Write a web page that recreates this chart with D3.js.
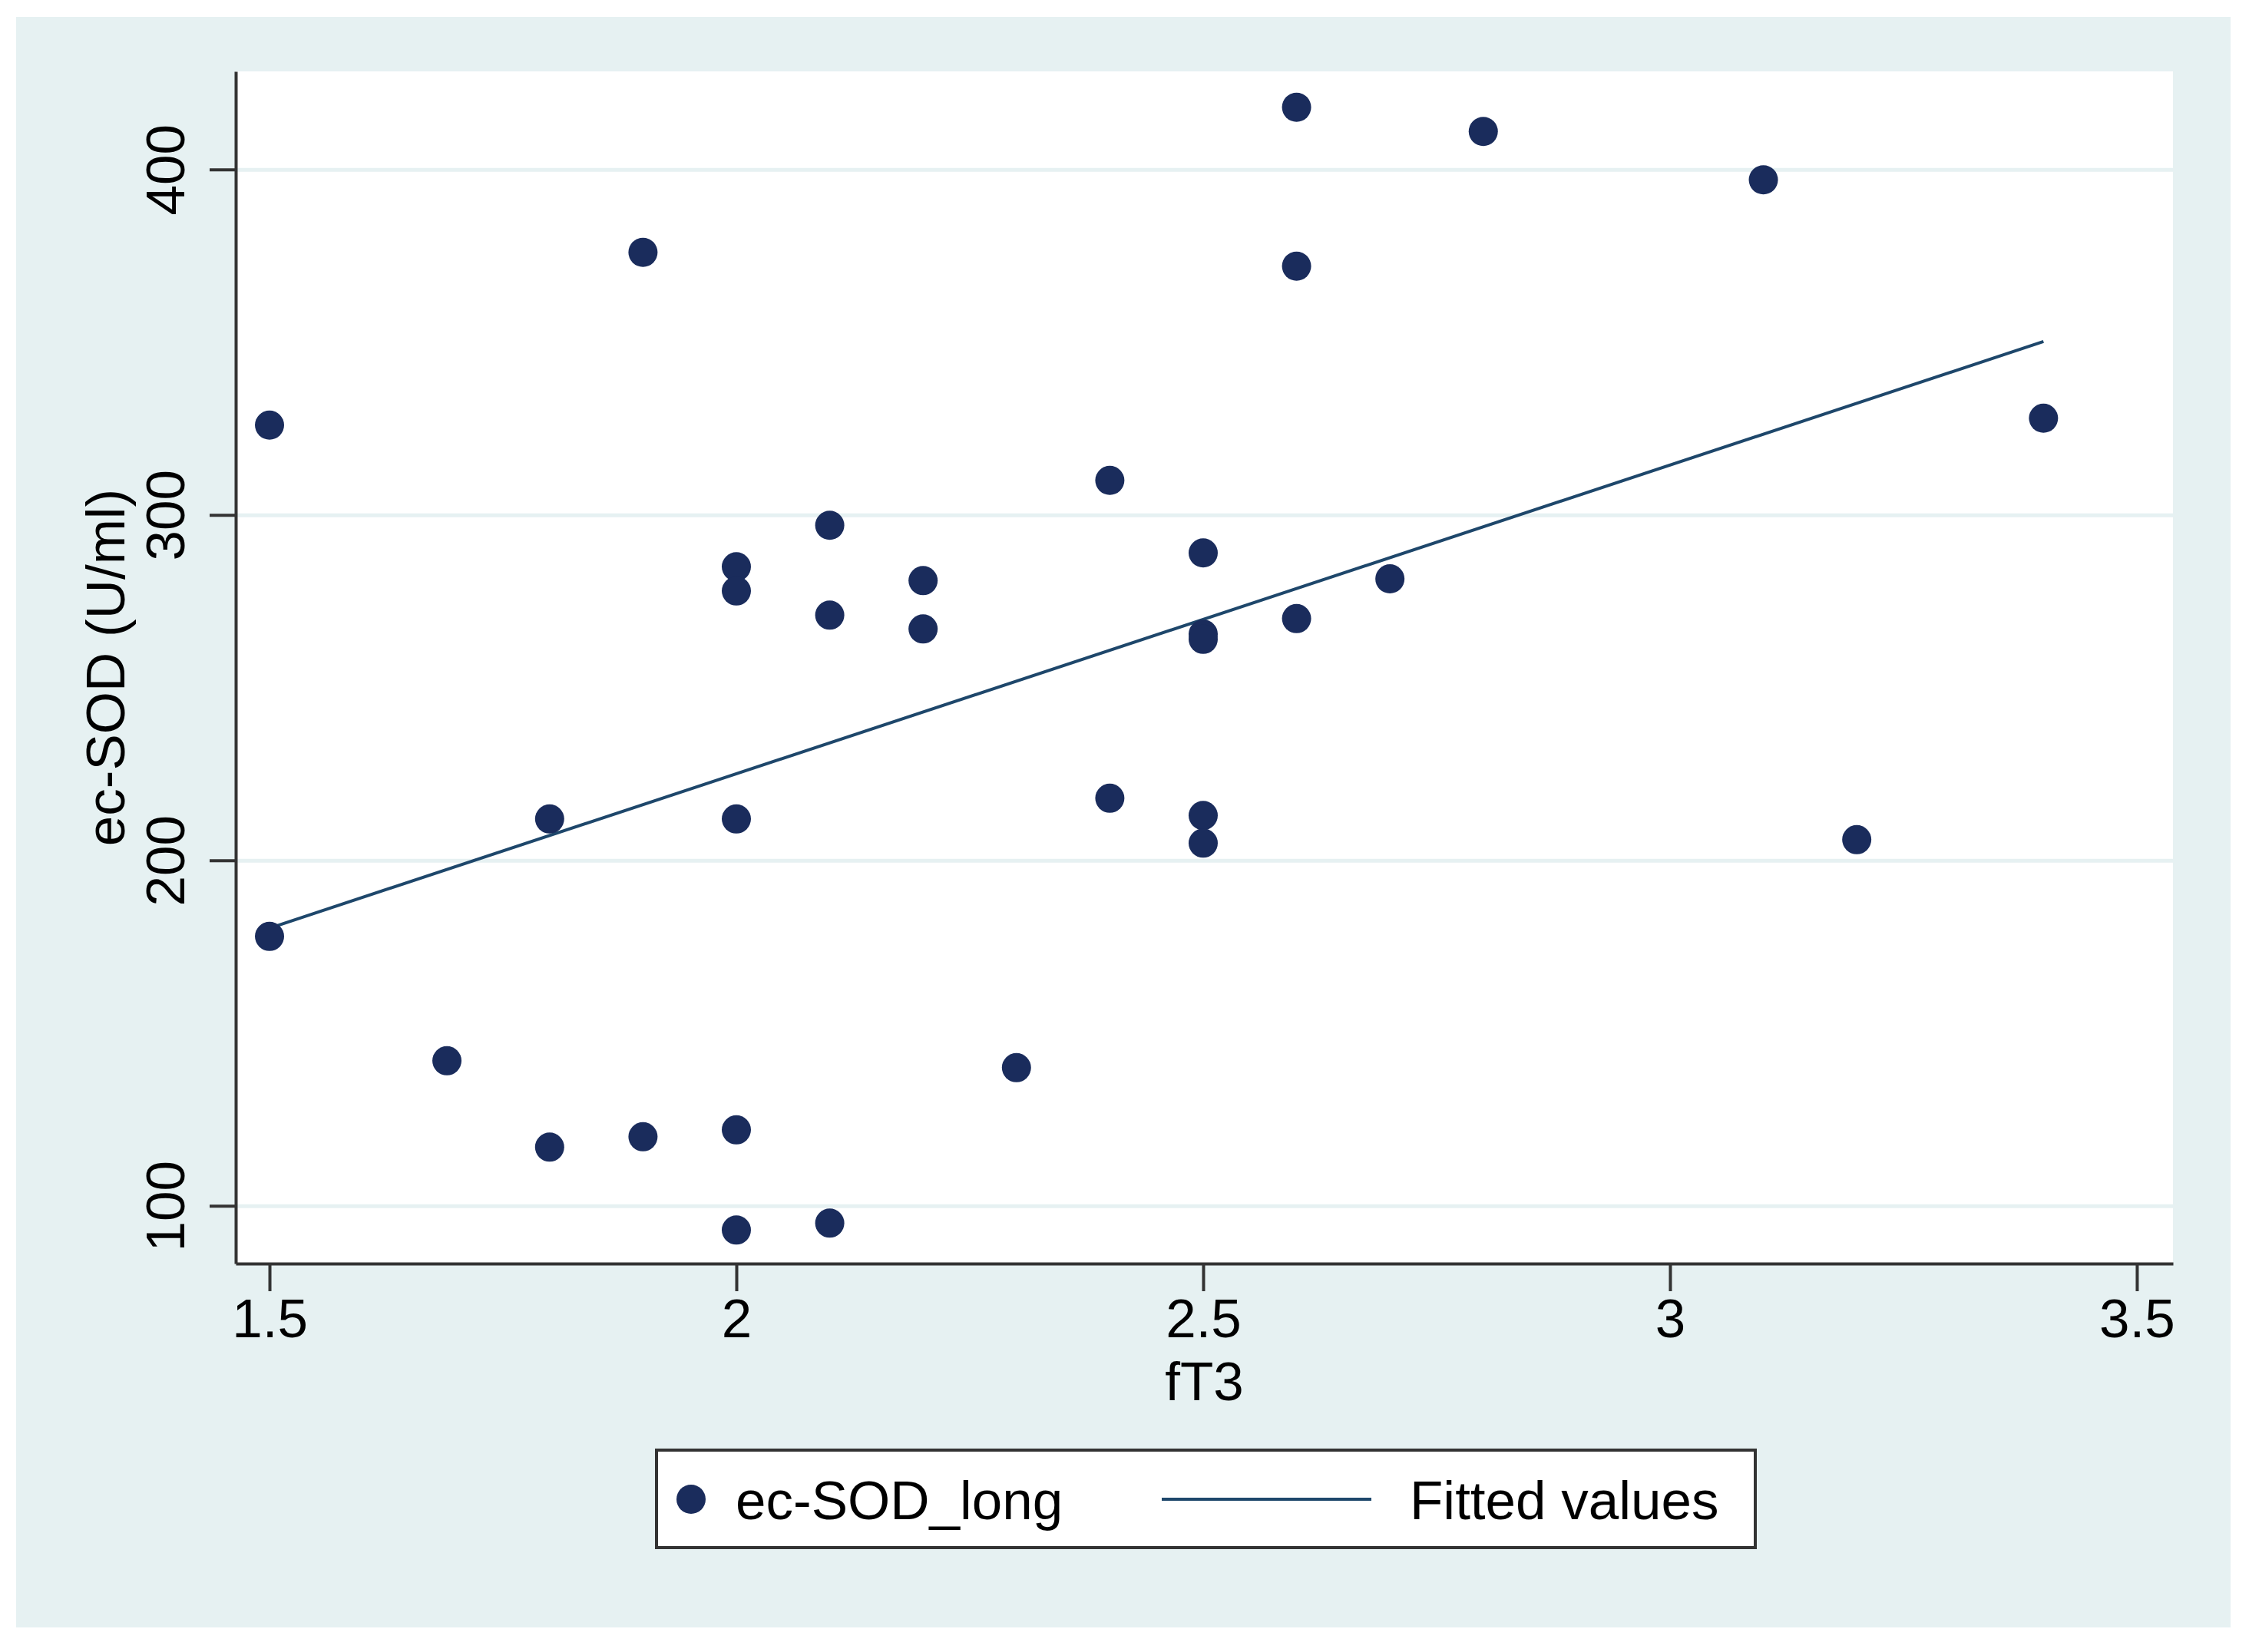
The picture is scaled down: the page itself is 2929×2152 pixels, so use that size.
<!DOCTYPE html>
<html>
<head>
<meta charset="utf-8">
<script src="https://cdn.jsdelivr.net/npm/d3@7"></script>
<style>
  html, body { margin: 0; padding: 0; background: #ffffff; }
  svg text { font-family: "Liberation Sans", Arial, Helvetica, sans-serif; fill: #000; }
</style>
</head>
<body>
<div id="chart"></div>
<script>
// fT3 values (x) and ec-SOD (U/ml) values (y)
var ft3 = [1.5, 1.5, 1.69, 1.8, 1.8, 1.9, 1.9, 2.0, 2.0, 2.0, 2.0, 2.0,
  2.1, 2.1, 2.1, 2.2, 2.2, 2.3, 2.4, 2.4, 2.5, 2.5, 2.5, 2.5, 2.5,
  2.6, 2.6, 2.6, 2.7, 2.8, 3.1, 3.2, 3.4];
var ecSod = [326, 178, 142, 212, 117, 376, 120, 285, 278, 212, 122, 93,
  297, 271, 95, 281, 267, 140, 310, 218, 289, 265.5, 264, 213, 205,
  418, 372, 270, 281.5, 411, 397, 206, 328];

// fitted values line (endpoints)
var fitX = [1.5, 3.4];
var fitY = [180.4, 350.2];

var xTicks = [1.5, 2, 2.5, 3, 3.5];
var yTicks = [100, 200, 300, 400];

var width = 2929;
var height = 2152;

var margins = {
  top: 93,
  right: 2929 - 2830,
  bottom: 2152 - 1646,
  left: 307
};

var chartWidth = width - margins.left - margins.right;
var chartHeight = height - margins.top - margins.bottom;

var container = d3.select('#chart').append('svg')
  .attr('width', width)
  .attr('height', height)
  .attr('viewBox', `0 0 ${width} ${height}`);

// outer (graph region) background
container.append('rect')
  .attr('x', 21).attr('y', 22)
  .attr('width', 2905 - 21).attr('height', 2120 - 22)
  .attr('fill', '#e6f1f2');

var svg = container.append('g')
  .attr('transform', `translate(${margins.left},${margins.top})`);

// plot region
svg.append('rect')
  .attr('width', chartWidth)
  .attr('height', chartHeight)
  .attr('fill', '#ffffff');

var xScale = d3.scaleLinear()
  .domain([1.4638, 3.5387])
  .range([0, chartWidth]);

var yScale = d3.scaleLinear()
  .domain([83.3, 428.4])
  .range([chartHeight, 0]);

// gridlines
svg.append('g')
  .attr('class', 'grid')
  .call(d3.axisLeft(yScale).tickValues(yTicks).tickSize(-chartWidth).tickFormat(''))
  .call(function(g) {
    g.select('.domain').remove();
    g.selectAll('line').attr('stroke', '#e6f1f2').attr('stroke-width', 5);
  });

// fitted line
var line = d3.line()
  .x(function(d) { return xScale(d[0]); })
  .y(function(d) { return yScale(d[1]); });

svg.append('path')
  .datum(d3.zip(fitX, fitY))
  .attr('d', line)
  .attr('fill', 'none')
  .attr('stroke', '#1e476b')
  .attr('stroke-width', 4);

// points
svg.append('g')
  .selectAll('circle')
  .data(d3.zip(ft3, ecSod))
  .enter().append('circle')
  .attr('cx', function(d) { return xScale(d[0]); })
  .attr('cy', function(d) { return yScale(d[1]); })
  .attr('r', 19)
  .attr('fill', '#1a2c5c');

// y axis
var yAxis = d3.axisLeft(yScale)
  .tickValues(yTicks)
  .tickFormat(d3.format('d'))
  .tickSizeInner(34)
  .tickSizeOuter(0);

svg.append('g')
  .attr('class', 'axis axis--y')
  .call(yAxis)
  .call(function(g) {
    g.select('.domain').attr('stroke', '#333').attr('stroke-width', 4);
    g.selectAll('.tick line').attr('stroke', '#333').attr('stroke-width', 4);
    g.selectAll('.tick text')
      .attr('x', 0).attr('dy', 0)
      .attr('transform', 'translate(-67,0) rotate(-90)')
      .style('text-anchor', 'middle')
      .style('font-size', '71px')
      .attr('fill', '#000');
  });

// x axis
var xAxis = d3.axisBottom(xScale)
  .tickValues(xTicks)
  .tickFormat(function(d) { return String(d); })
  .tickSizeInner(36)
  .tickSizeOuter(0);

svg.append('g')
  .attr('class', 'axis axis--x')
  .attr('transform', `translate(0,${chartHeight})`)
  .call(xAxis)
  .call(function(g) {
    g.select('.domain').attr('stroke', '#333').attr('stroke-width', 4);
    g.selectAll('.tick line').attr('stroke', '#333').attr('stroke-width', 4);
    g.selectAll('.tick text')
      .attr('y', 96).attr('dy', 0)
      .style('font-size', '71px')
      .attr('fill', '#000');
  });

// axis titles
svg.append('text')
  .attr('x', chartWidth / 2)
  .attr('y', 1824 - margins.top)
  .attr('text-anchor', 'middle')
  .style('font-size', '71px')
  .text('fT3');

svg.append('text')
  .attr('transform', `translate(${162 - margins.left},${chartHeight / 2}) rotate(-90)`)
  .attr('text-anchor', 'middle')
  .style('font-size', '71px')
  .text('ec-SOD (U/ml)');

// legend
var legend = container.append('g');
legend.append('rect')
  .attr('x', 855).attr('y', 1889)
  .attr('width', 2286 - 855).attr('height', 2016 - 1889)
  .attr('fill', '#ffffff')
  .attr('stroke', '#333')
  .attr('stroke-width', 4);

legend.append('circle')
  .attr('cx', 900).attr('cy', 1953).attr('r', 19)
  .attr('fill', '#1a2c5c');

legend.append('text')
  .attr('x', 958).attr('y', 1979)
  .style('font-size', '71px')
  .text('ec-SOD_long');

legend.append('line')
  .attr('x1', 1513).attr('x2', 1786)
  .attr('y1', 1953).attr('y2', 1953)
  .attr('stroke', '#1e476b')
  .attr('stroke-width', 4);

legend.append('text')
  .attr('x', 1836).attr('y', 1979)
  .style('font-size', '71px')
  .text('Fitted values');
</script>
</body>
</html>
